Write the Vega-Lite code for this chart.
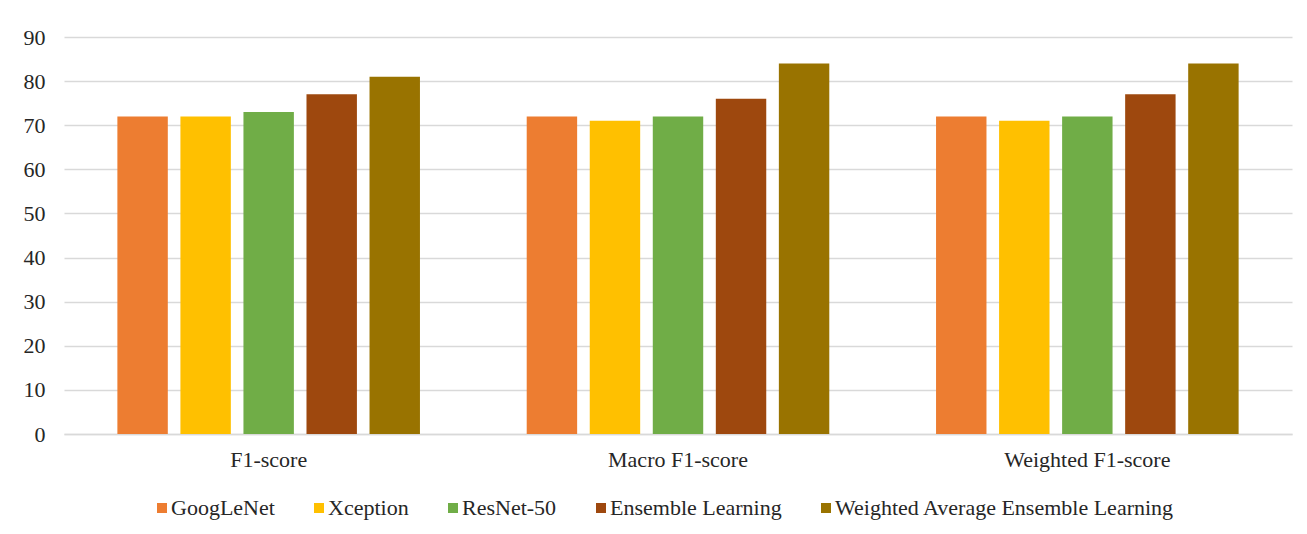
{
  "$schema": "https://vega.github.io/schema/vega-lite/v6.json",
  "autosize": {"type": "none"},
  "width": 1228,
  "height": 397,
  "padding": {"left": 64, "top": 37, "right": 15, "bottom": 100},
  "background": "white",
  "data": {
    "values": [
      {"metric": "F1-score", "model": "GoogLeNet", "value": 72},
      {"metric": "F1-score", "model": "Xception", "value": 72},
      {"metric": "F1-score", "model": "ResNet-50", "value": 73},
      {"metric": "F1-score", "model": "Ensemble Learning", "value": 77},
      {"metric": "F1-score", "model": "Weighted Average Ensemble Learning", "value": 81},
      {"metric": "Macro F1-score", "model": "GoogLeNet", "value": 72},
      {"metric": "Macro F1-score", "model": "Xception", "value": 71},
      {"metric": "Macro F1-score", "model": "ResNet-50", "value": 72},
      {"metric": "Macro F1-score", "model": "Ensemble Learning", "value": 76},
      {"metric": "Macro F1-score", "model": "Weighted Average Ensemble Learning", "value": 84},
      {"metric": "Weighted F1-score", "model": "GoogLeNet", "value": 72},
      {"metric": "Weighted F1-score", "model": "Xception", "value": 71},
      {"metric": "Weighted F1-score", "model": "ResNet-50", "value": 72},
      {"metric": "Weighted F1-score", "model": "Ensemble Learning", "value": 77},
      {"metric": "Weighted F1-score", "model": "Weighted Average Ensemble Learning", "value": 84}
    ]
  },
  "mark": {"type": "bar"},
  "encoding": {
    "x": {
      "field": "metric",
      "type": "nominal",
      "sort": ["F1-score", "Macro F1-score", "Weighted F1-score"],
      "scale": {"paddingInner": 0.23, "paddingOuter": 0.115},
      "axis": {
        "title": null,
        "labelAngle": 0,
        "labelFont": "Liberation Serif",
        "labelFontSize": 22,
        "labelColor": "#262626",
        "labelPadding": 15,
        "ticks": false,
        "domain": true,
        "domainColor": "#D9D9D9",
        "domainWidth": 1.5
      }
    },
    "xOffset": {
      "field": "model",
      "type": "nominal",
      "sort": ["GoogLeNet", "Xception", "ResNet-50", "Ensemble Learning", "Weighted Average Ensemble Learning"],
      "scale": {"paddingInner": 0.2, "paddingOuter": 0.1}
    },
    "y": {
      "field": "value",
      "type": "quantitative",
      "scale": {"domain": [0, 90], "nice": false},
      "axis": {
        "title": null,
        "values": [0, 10, 20, 30, 40, 50, 60, 70, 80, 90],
        "labelFont": "Liberation Serif",
        "labelFontSize": 22,
        "labelColor": "#262626",
        "labelPadding": 19,
        "ticks": false,
        "domain": false,
        "grid": true,
        "gridColor": "#D9D9D9",
        "gridWidth": 1.5
      }
    },
    "color": {
      "field": "model",
      "type": "nominal",
      "sort": ["GoogLeNet", "Xception", "ResNet-50", "Ensemble Learning", "Weighted Average Ensemble Learning"],
      "scale": {
        "domain": ["GoogLeNet", "Xception", "ResNet-50", "Ensemble Learning", "Weighted Average Ensemble Learning"],
        "range": ["#ED7D31", "#FFC000", "#70AD47", "#9E480E", "#997300"]
      },
      "legend": {
        "title": null,
        "orient": "none",
        "legendX": 87,
        "legendY": 460,
        "padding": 0,
        "direction": "horizontal",
        "symbolType": "square",
        "symbolSize": 100,
        "symbolStrokeWidth": 0,
        "symbolOffset": 0,
        "labelOffset": -2,
        "columnPadding": 33,
        "labelFont": "Liberation Serif",
        "labelFontSize": 22,
        "labelColor": "#262626",
        "labelLimit": 500
      }
    }
  },
  "config": {
    "view": {"stroke": null}
  }
}
